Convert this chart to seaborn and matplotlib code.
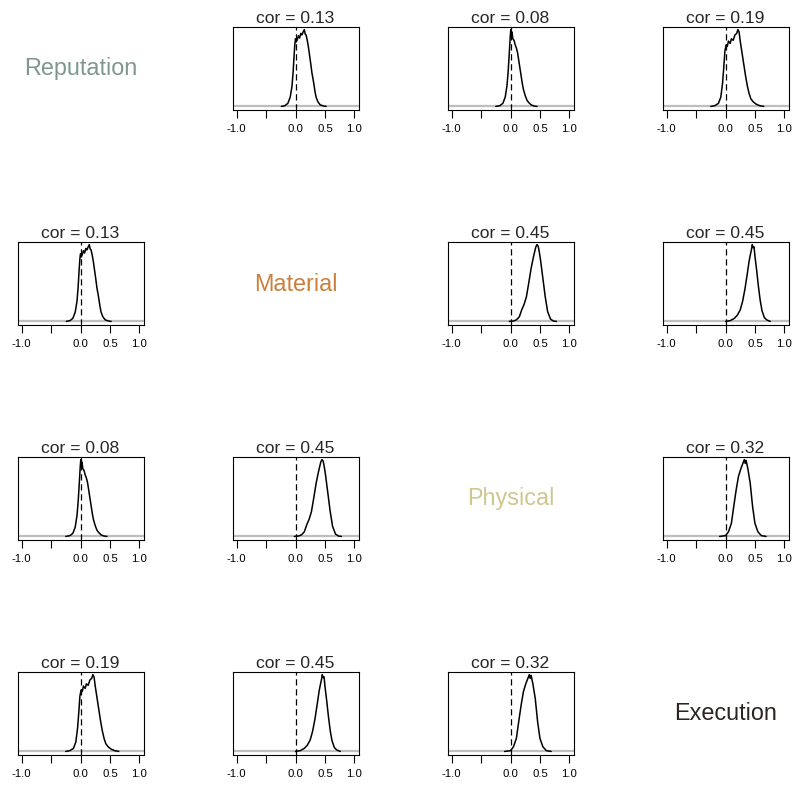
import matplotlib
matplotlib.use("Agg")
import matplotlib.pyplot as plt
import seaborn as sns
import pandas as pd

sns.set_style("white")
plt.rcParams['font.family'] = ['Liberation Sans', 'DejaVu Sans']

# ---- data ----
variables = ["Reputation", "Material", "Physical", "Execution"]
var_colors = ["#7f978c", "#c9803d", "#cfc690", "#2b2421"]

x_ticks = [-1.0, -0.5, 0.0, 0.5, 1.0]
x_tick_labels = ["-1.0", "", "0.0", "0.5", "1.0"]

# correlation labels for each pair
cor_rep_mat = "0.13"
cor_rep_phys = "0.08"
cor_rep_exec = "0.19"
cor_mat_phys = "0.45"
cor_mat_exec = "0.45"
cor_phys_exec = "0.32"

# posterior density curves (relative height)
rep_mat_x = [-0.24, -0.18, -0.13, -0.09, -0.06, -0.04, -0.025, -0.01, 0.0, 0.015, 0.03, 0.05, 0.07,
             0.09, 0.11, 0.13, 0.15, 0.165, 0.18, 0.2, 0.22, 0.24, 0.26, 0.28, 0.295, 0.31, 0.33,
             0.35, 0.38, 0.42, 0.48, 0.52]
rep_mat_y = [0, 0.01, 0.04, 0.12, 0.26, 0.45, 0.65, 0.82, 0.88, 0.84, 0.87, 0.92, 0.89,
             0.95, 0.93, 0.97, 1.0, 0.94, 0.93, 0.86, 0.77, 0.66, 0.55, 0.43, 0.37, 0.3, 0.2,
             0.12, 0.06, 0.02, 0.005, 0]

rep_phys_x = [-0.25, -0.18, -0.13, -0.09, -0.06, -0.04, -0.02, -0.005, 0.005, 0.015, 0.025, 0.04,
              0.06, 0.08, 0.1, 0.12, 0.14, 0.16, 0.18, 0.2, 0.22, 0.25, 0.28, 0.31, 0.35, 0.4, 0.45]
rep_phys_y = [0, 0.01, 0.04, 0.12, 0.27, 0.45, 0.7, 0.9, 1.0, 0.93, 0.97, 0.88,
              0.86, 0.8, 0.76, 0.7, 0.6, 0.5, 0.4, 0.3, 0.22, 0.14, 0.08, 0.05, 0.02, 0.005, 0]

rep_exec_x = [-0.25, -0.18, -0.12, -0.08, -0.05, -0.03, -0.01, 0.01, 0.03, 0.05, 0.08, 0.1, 0.13,
              0.16, 0.19, 0.21, 0.23, 0.25, 0.28, 0.31, 0.34, 0.37, 0.4, 0.43, 0.47, 0.52, 0.58, 0.65]
rep_exec_y = [0, 0.01, 0.04, 0.12, 0.3, 0.5, 0.72, 0.8, 0.78, 0.85, 0.82, 0.88, 0.86,
              0.93, 0.95, 1.0, 0.97, 0.85, 0.7, 0.55, 0.4, 0.27, 0.17, 0.1, 0.06, 0.03, 0.01, 0]

mat_phys_x = [-0.02, 0.05, 0.1, 0.15, 0.19, 0.23, 0.27, 0.31, 0.35, 0.39, 0.43, 0.45, 0.47, 0.49,
              0.51, 0.55, 0.59, 0.63, 0.68, 0.73, 0.78]
mat_phys_y = [0, 0.005, 0.02, 0.06, 0.15, 0.22, 0.32, 0.5, 0.69, 0.84, 0.97, 1.0, 0.98, 0.9,
              0.8, 0.56, 0.32, 0.13, 0.03, 0.005, 0]

mat_exec_x = [0.0, 0.08, 0.15, 0.2, 0.25, 0.29, 0.33, 0.37, 0.4, 0.42, 0.44, 0.455, 0.47, 0.485,
              0.5, 0.53, 0.56, 0.59, 0.62, 0.66, 0.7, 0.76]
mat_exec_y = [0, 0.01, 0.04, 0.08, 0.15, 0.26, 0.42, 0.62, 0.78, 0.86, 0.93, 1.0, 0.96, 0.97,
              0.85, 0.66, 0.45, 0.27, 0.14, 0.05, 0.02, 0]

phys_exec_x = [-0.1, 0.0, 0.05, 0.1, 0.14, 0.18, 0.22, 0.26, 0.3, 0.32, 0.335, 0.35, 0.38, 0.42,
               0.46, 0.5, 0.55, 0.61, 0.69]
phys_exec_y = [0, 0.01, 0.06, 0.17, 0.39, 0.6, 0.78, 0.88, 0.96, 1.0, 0.95, 0.99, 0.88, 0.69,
               0.39, 0.17, 0.06, 0.01, 0]

pairs = {
    (0, 1): (rep_mat_x, rep_mat_y, cor_rep_mat),
    (0, 2): (rep_phys_x, rep_phys_y, cor_rep_phys),
    (0, 3): (rep_exec_x, rep_exec_y, cor_rep_exec),
    (1, 2): (mat_phys_x, mat_phys_y, cor_mat_phys),
    (1, 3): (mat_exec_x, mat_exec_y, cor_mat_exec),
    (2, 3): (phys_exec_x, phys_exec_y, cor_phys_exec),
}

# ---- layout (pixels) ----
W, H = 798, 788
col_left = [17.5, 232.5, 447.5, 662.5]
row_top = [26.5, 241.5, 456.5, 671.5]
box_w, box_h = 126, 83

fig = plt.figure(figsize=(W / 100, H / 100), dpi=100)

for r in range(4):
    for c in range(4):
        left = col_left[c] / W
        bottom = 1 - (row_top[r] + box_h) / H
        if r == c:
            cx = (col_left[c] + box_w / 2) / W
            cy = 1 - (row_top[r] + box_h / 2 + 7.5) / H
            fig.text(cx, cy, variables[r], color=var_colors[r], fontsize=16.8,
                     ha="center", va="baseline")
            continue
        key = (min(r, c), max(r, c))
        xs, ys, cor = pairs[key]
        ax = fig.add_axes([left, bottom, box_w / W, box_h / H])
        df = pd.DataFrame({"x": xs, "y": ys})
        ax.axhline(0, color="#bebebe", lw=1.6, zorder=1)
        ax.axvline(0, color="black", lw=0.9, ls=(0, (5, 3)), zorder=2)
        sns.lineplot(data=df, x="x", y="y", ax=ax, color="black", lw=1.1, zorder=3)
        ax.set_xlim(-1.07, 1.07)
        ax.set_ylim(-0.04, 1.04)
        ax.set_xticks(x_ticks)
        ax.set_xticklabels(x_tick_labels)
        ax.set_yticks([])
        ax.set_xlabel("")
        ax.set_ylabel("")
        ax.tick_params(axis="x", direction="out", length=5.5, width=0.8, pad=5,
                       labelsize=8.2, colors="black", bottom=True)
        for s in ax.spines.values():
            s.set_visible(True)
            s.set_color("black")
            s.set_linewidth(0.8)
        ax.text(0.5, 1 + 3.4 / box_h, f"cor = {cor}", transform=ax.transAxes,
                ha="center", va="baseline", fontsize=12.6)

fig.savefig("out.png", dpi=100)
